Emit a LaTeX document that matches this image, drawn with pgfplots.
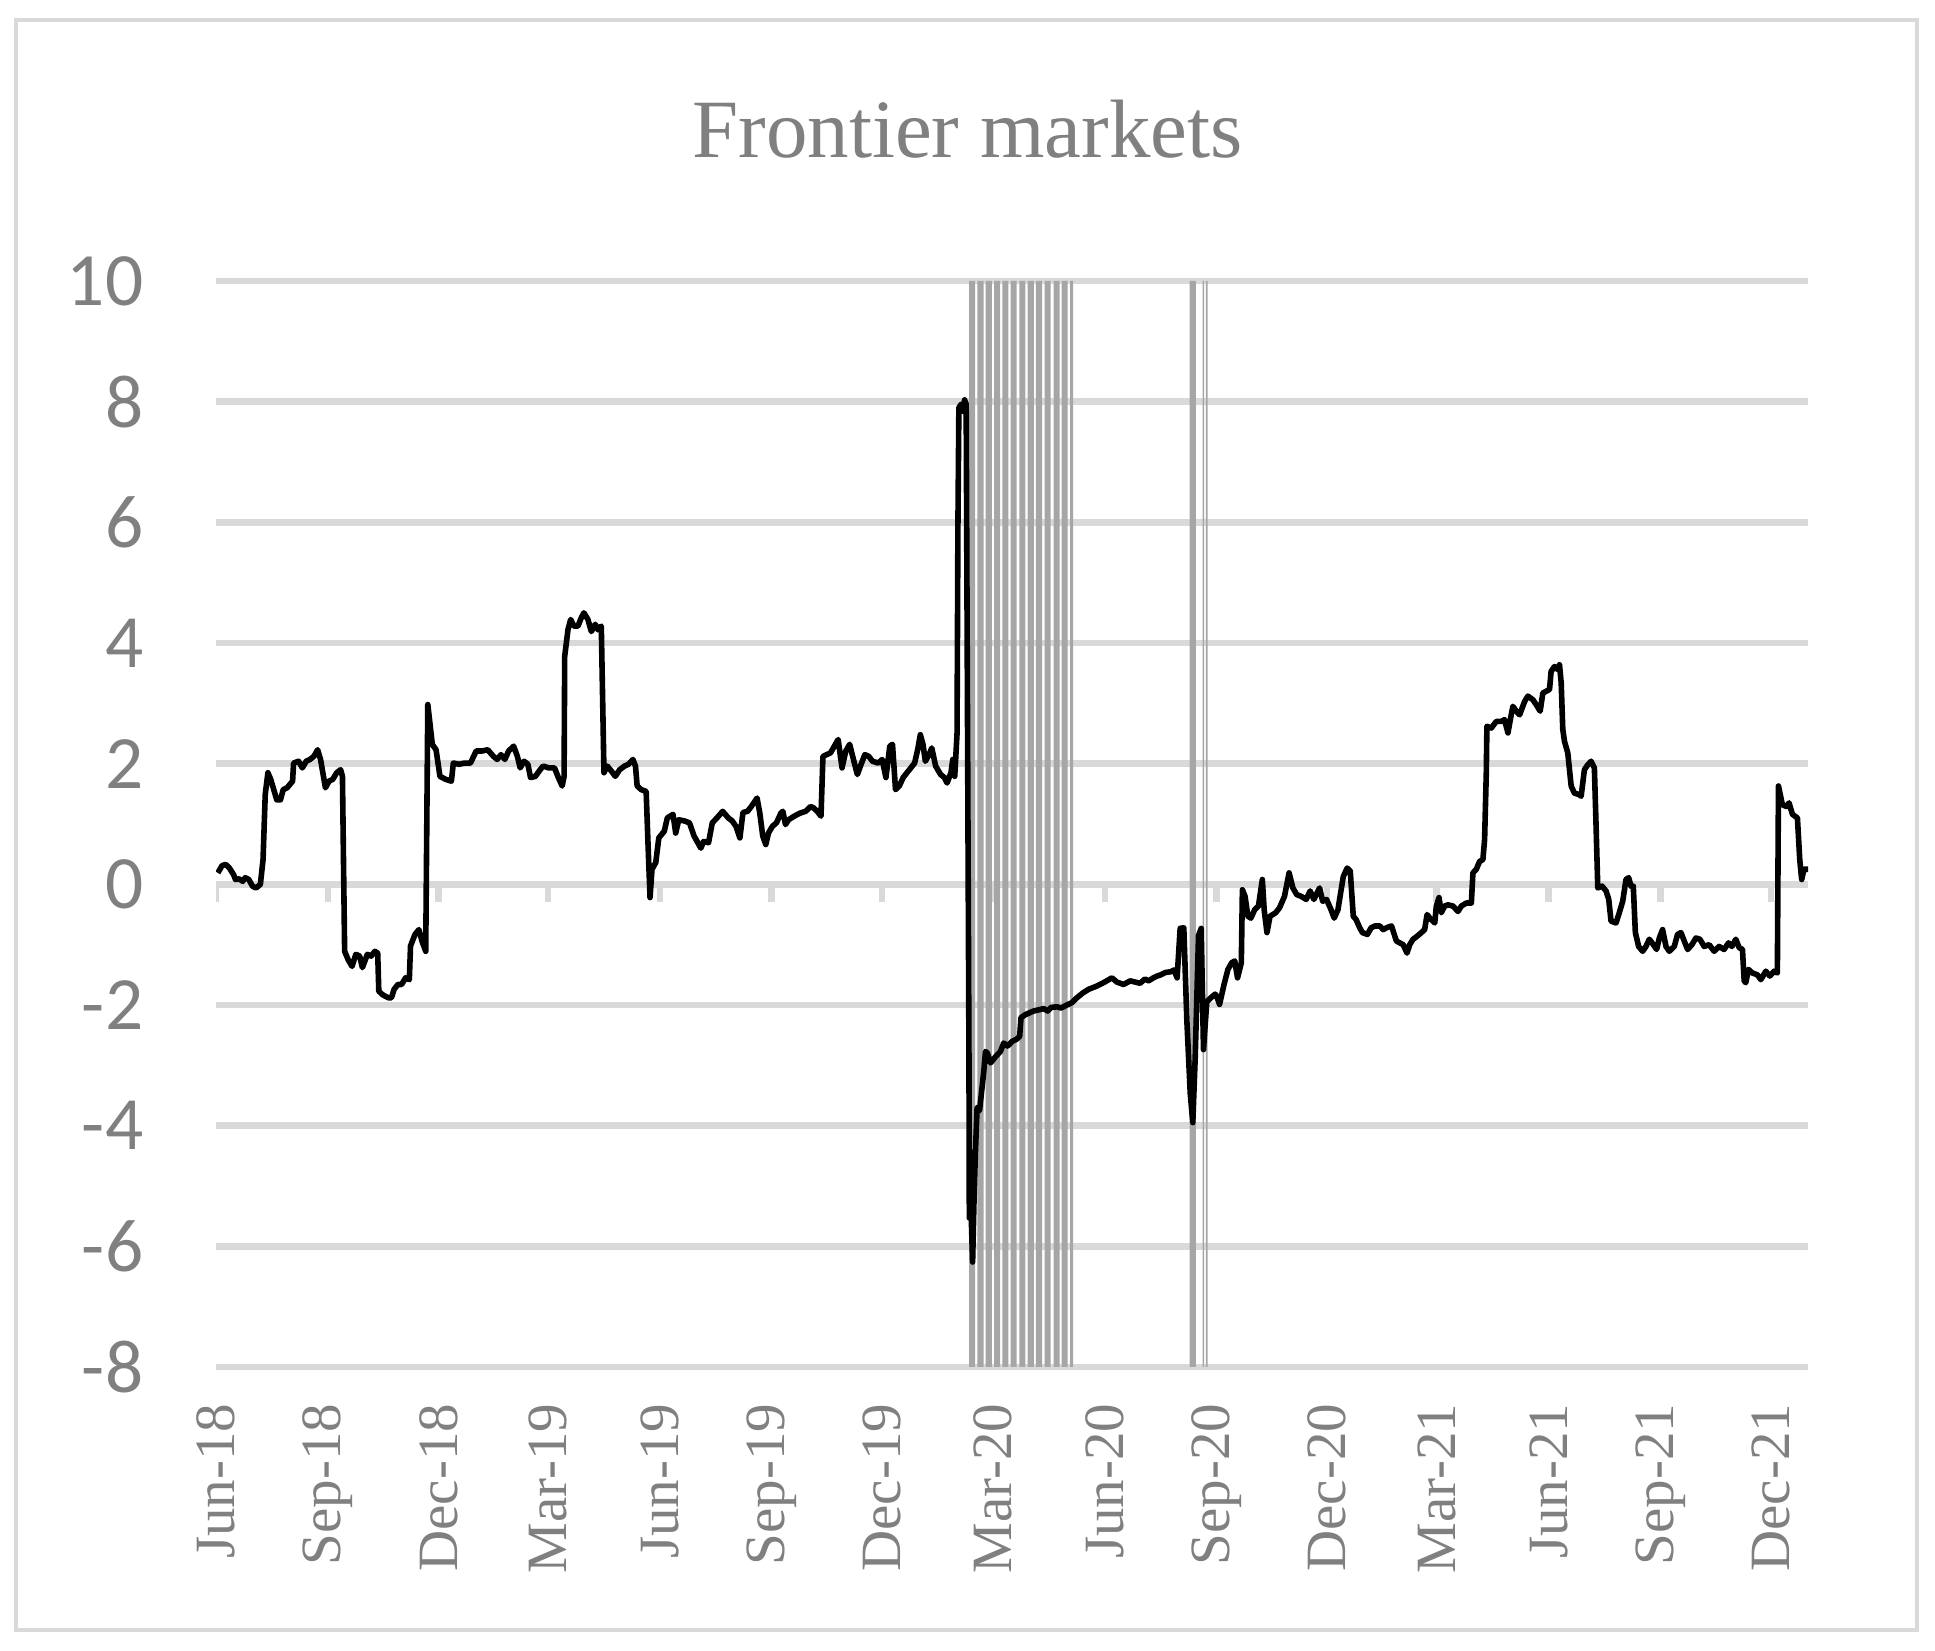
\documentclass[border=0pt]{standalone}
\usepackage{pgfplots}
\pgfplotsset{compat=1.18}
\usepackage{pgfplotstable}
\usepackage{fontspec}
\setmainfont{Liberation Serif}
\newfontfamily\carlito{Carlito}
\definecolor{gridgray}{RGB}{217,217,217}
\definecolor{bargray}{RGB}{166,166,166}
\definecolor{labgray}{RGB}{128,128,128}

\pgfplotstableread{
d v
1.5 0.19
5 0.31
8 0.33
11 0.27
14.5 0.16
16 0.08
19 0.09
22 0.05
24 0.11
27 0.08
30 -0.03
33 -0.06
36.5 0.0
38.7 0.41
40.5 1.49
42.7 1.85
45 1.74
47.5 1.57
50 1.40
53 1.40
55.3 1.57
58.5 1.60
63 1.71
63.8 2.01
67.9 2.04
71 1.93
74.2 2.04
77.3 2.07
80.5 2.12
83.6 2.23
86 2.07
90 1.60
93 1.71
96 1.74
99.3 1.85
102.5 1.90
104 1.79
105.8 -1.11
108.7 -1.25
111.9 -1.36
115 -1.16
118.2 -1.19
120.4 -1.38
124.5 -1.16
127.6 -1.19
130.7 -1.11
133 -1.14
133.9 -1.77
137 -1.83
141.7 -1.88
144.3 -1.88
146.5 -1.74
149.6 -1.66
152.7 -1.66
155.9 -1.55
159 -1.58
160 -1.02
163.7 -0.83
166.9 -0.75
169.4 -0.94
172.5 -1.11
174.2 2.98
177.9 2.32
181 2.23
184.2 1.79
188.9 1.74
193.6 1.71
195.2 2.01
199.9 1.99
204.6 2.01
209.3 2.01
214 2.21
218.7 2.21
223.5 2.23
228.2 2.12
231.3 2.07
234.4 2.15
237.6 2.07
240.7 2.21
244.8 2.29
247.9 2.12
250.2 1.93
253.3 2.04
256.5 1.99
258.7 1.77
262.7 1.79
265.9 1.88
269 1.96
273.7 1.93
278.4 1.93
281.6 1.77
284.7 1.63
286.3 1.79
286.8 3.78
289.5 4.22
291.7 4.39
294.4 4.28
297.7 4.28
300.5 4.42
302.6 4.50
305.9 4.39
308.7 4.19
311.9 4.31
314.1 4.22
316.9 4.28
319.1 1.85
321.8 1.96
325.1 1.88
328.4 1.79
332 1.90
336 1.96
339.3 1.99
342.9 2.07
345 1.96
346.4 1.63
349.7 1.57
353.8 1.54
355.4 0.63
357 -0.22
358.6 0.25
361.7 0.36
364.2 0.77
368.7 0.88
371.2 1.10
375.9 1.16
378.1 0.85
380.6 1.07
385.3 1.05
389.4 1.02
393.2 0.80
398.8 0.60
401 0.71
405.1 0.69
408.2 1.02
412 1.10
416.7 1.21
421.4 1.10
424.6 1.05
427.7 0.96
430.9 0.77
433.4 1.19
437.2 1.21
440.3 1.29
445 1.43
447.2 1.19
449.7 0.80
452.2 0.66
454.4 0.85
457.6 0.96
461 1.02
464.6 1.18
466.2 1.21
468.4 0.99
470.9 1.07
475.6 1.13
480.3 1.18
485 1.21
489.1 1.29
491.3 1.27
494.5 1.21
497.6 1.13
499.2 2.12
502.3 2.15
505.5 2.18
508.6 2.29
511.7 2.40
514.9 1.93
518 2.21
521.2 2.32
524.3 2.07
527.5 1.82
530.6 1.99
533.7 2.15
536.9 2.12
540 2.04
544.7 2.01
547.9 2.07
551 1.77
554.2 2.29
556.4 2.32
558.9 1.57
562 1.63
565.2 1.77
568.3 1.85
571.5 1.93
574.6 2.01
577.1 2.23
579.3 2.48
581.5 2.32
583.4 2.04
586.5 2.15
588.7 2.26
591.9 1.96
596 1.82
599.1 1.77
601.3 1.68
604.5 1.85
606 2.07
607.6 1.79
609.5 2.5
610.2 5.89
611 7.90
613 7.96
614.6 7.84
615.7 8.03
617 7.96
617.9 3.71
619.3 -2.86
619.6 -5.53
620.6 -4.43
621.3 -5.6
622.3 -6.26
623.4 -5.29
624.5 -4.5
626 -3.7
628 -3.75
631.5 -3.1
632.9 -2.77
634.5 -2.80
637 -2.96
641 -2.86
645.2 -2.77
647.9 -2.63
651 -2.68
655 -2.60
658.3 -2.57
661 -2.52
662.1 -2.21
665.7 -2.16
672.5 -2.10
680.8 -2.06
684 -2.10
687 -2.04
691.7 -2.03
695 -2.05
699.9 -2.00
704 -1.96
708.1 -1.88
713 -1.80
717.7 -1.74
724 -1.69
730 -1.63
736.9 -1.55
741 -1.62
746.4 -1.66
751.9 -1.60
756 -1.62
760 -1.64
764 -1.57
767 -1.60
771 -1.55
774 -1.52
777 -1.50
781 -1.46
785 -1.45
788 -1.42
790.5 -1.55
793 -0.73
796 -0.72
798.5 -2.25
801.3 -3.47
803.4 -3.95
805.4 -2.86
808.1 -0.85
810.3 -0.73
812.2 -2.74
814.9 -1.95
817.7 -1.89
821.8 -1.82
823 -1.85
825.4 -1.99
829.1 -1.66
832.3 -1.41
835.4 -1.30
837.9 -1.27
840.2 -1.55
843.3 -1.30
844.2 -0.09
846.4 -0.20
848.7 -0.53
851.2 -0.56
854.3 -0.42
857.4 -0.36
860.6 0.08
862.1 -0.42
864.4 -0.80
866.9 -0.53
871.6 -0.47
874.7 -0.39
878.8 -0.20
882.6 0.19
885.7 -0.06
888.9 -0.17
892.6 -0.20
896.7 -0.25
899.9 -0.11
903 -0.25
907.7 -0.06
910.2 -0.28
913.4 -0.25
917.1 -0.42
919.7 -0.56
922.8 -0.42
925 -0.14
927.2 0.13
930.4 0.27
932.9 0.22
935.4 -0.53
937.6 -0.58
940.7 -0.72
942.9 -0.80
947 -0.83
950.1 -0.72
953.3 -0.69
957.2 -0.69
960 -0.75
962.7 -0.72
966.8 -0.69
970.9 -0.94
973.6 -0.97
976.4 -1.00
979.6 -1.14
981.8 -1.00
984.6 -0.91
987.9 -0.86
991.4 -0.80
994.1 -0.75
996.1 -0.50
998.3 -0.56
1002.4 -0.64
1003.7 -0.36
1005.9 -0.22
1007.8 -0.47
1010.6 -0.36
1013.3 -0.34
1017.4 -0.36
1021.5 -0.45
1024.3 -0.36
1028.4 -0.31
1032.5 -0.31
1033.8 0.19
1036.6 0.25
1039.3 0.38
1042 0.41
1043.4 0.74
1044.8 1.85
1045.3 2.62
1048.9 2.59
1053 2.70
1057.1 2.70
1059.8 2.73
1062.6 2.51
1065.3 2.81
1066.7 2.95
1069.4 2.87
1072.2 2.81
1076.3 3.03
1079 3.12
1083.1 3.06
1085.8 2.98
1089.1 2.87
1091.3 3.17
1094 3.20
1096.8 3.23
1098.1 3.53
1100.9 3.61
1103.6 3.56
1105 3.64
1106.4 3.34
1107.7 2.57
1109.1 2.37
1111.8 2.18
1114.6 1.63
1117.3 1.51
1120.9 1.49
1122.8 1.46
1125.5 1.90
1128.2 1.98
1131 2.04
1133.7 1.93
1135.1 0.96
1136.5 -0.06
1140 -0.03
1143.3 -0.11
1145.5 -0.25
1147.4 -0.61
1151.5 -0.64
1154.2 -0.47
1157 -0.28
1159.7 0.08
1161.9 0.11
1163.8 -0.03
1165.7 -0.03
1167.4 -0.80
1170.1 -1.03
1173.4 -1.11
1176.1 -1.03
1178.9 -0.91
1182.2 -1.00
1184.9 -1.08
1187.1 -0.89
1189.8 -0.75
1192.6 -1.03
1195.3 -1.11
1199.4 -1.03
1202.1 -0.83
1204.9 -0.80
1207.6 -0.94
1210.4 -1.08
1213.9 -1.00
1217.2 -0.89
1220.5 -0.91
1224 -1.03
1228.1 -1.00
1232.2 -1.11
1236.3 -1.03
1240.4 -1.08
1244 -0.97
1246.8 -1.03
1250 -0.91
1252.8 -1.05
1255.5 -1.08
1256.9 -1.60
1258.2 -1.63
1260.4 -1.41
1263.7 -1.47
1267.8 -1.50
1270.6 -1.58
1274.7 -1.44
1278 -1.52
1281.5 -1.44
1284.2 -1.47
1285.1 1.63
1288.3 1.32
1291.6 1.29
1293.8 1.35
1296.6 1.16
1300.7 1.10
1302.6 0.41
1304.2 0.08
1306.1 0.25
1309.4 0.25
}\series

\begin{document}
\begin{tikzpicture}
\path (0,0) rectangle (483.75bp,412.75bp);
\draw[gridgray, line width=1bp] (4bp,5.25bp) rectangle (479.25bp,407.75bp);
\node[anchor=base, text=labgray, font=\fontsize{20.8}{20.8}\selectfont, inner sep=0pt] at (241.875bp,373.25bp) {Frontier markets};
\begin{axis}[
  at={(54bp,71bp)}, anchor=south west,
  width=398bp, height=271.5bp, scale only axis,
  xmin=0, xmax=1309.4, ymin=-8, ymax=10,
  axis line style={draw=none},
  major tick length=0pt,
  ytick={-8,-6,-4,-2,0,2,4,6,8,10},
  yticklabels={-8,-6,-4,-2,0,2,4,6,8,10},
  ymajorgrids,
  grid style={color=gridgray, line width=1.6bp},
  xtick={0,92,183,273,365,457,548,639,731,823,914,1004,1096,1188,1279},
  xticklabels={Jun-18,Sep-18,Dec-18,Mar-19,Jun-19,Sep-19,Dec-19,Mar-20,Jun-20,Sep-20,Dec-20,Mar-21,Jun-21,Sep-21,Dec-21},
  xticklabel style={rotate=90, anchor=east, inner sep=0pt, text=labgray, font=\fontsize{14.3}{14.3}\selectfont},
  xticklabel shift=9bp,
  yticklabel style={anchor=east, inner sep=0pt, text=labgray, font=\carlito\fontsize{18.9}{18.9}\selectfont},
  yticklabel shift=18bp,
]
% tick marks below zero line
\addplot[gridgray, line width=1.6bp, unbounded coords=jump, forget plot] coordinates {
(0,0) (0,-0.3) (46,nan) (92,0) (92,-0.3) (140,nan) (183,0) (183,-0.3) (230,nan)
(273,0) (273,-0.3) (320,nan) (365,0) (365,-0.3) (410,nan) (457,0) (457,-0.3) (500,nan)
(548,0) (548,-0.3) (590,nan) (639,0) (639,-0.3) (690,nan) (731,0) (731,-0.3) (780,nan)
(823,0) (823,-0.3) (870,nan) (914,0) (914,-0.3) (960,nan) (1004,0) (1004,-0.3) (1050,nan)
(1096,0) (1096,-0.3) (1140,nan) (1188,0) (1188,-0.3) (1230,nan) (1279,0) (1279,-0.3)
};
% crisis bars
\addplot[fill=bargray, draw=none, forget plot] coordinates {(619.4,-8) (619.4,10) (624.4,10) (624.4,-8) (619.4,-8)};
\addplot[fill=bargray, draw=none, forget plot] coordinates {(626.3,-8) (626.3,10) (631.3,10) (631.3,-8) (626.3,-8)};
\addplot[fill=bargray, draw=none, forget plot] coordinates {(633.1,-8) (633.1,10) (638.1,10) (638.1,-8) (633.1,-8)};
\addplot[fill=bargray, draw=none, forget plot] coordinates {(639.9,-8) (639.9,10) (644.9,10) (644.9,-8) (639.9,-8)};
\addplot[fill=bargray, draw=none, forget plot] coordinates {(646.8,-8) (646.8,10) (651.8,10) (651.8,-8) (646.8,-8)};
\addplot[fill=bargray, draw=none, forget plot] coordinates {(653.6,-8) (653.6,10) (658.6,10) (658.6,-8) (653.6,-8)};
\addplot[fill=bargray, draw=none, forget plot] coordinates {(660.7,-8) (660.7,10) (665.7,10) (665.7,-8) (660.7,-8)};
\addplot[fill=bargray, draw=none, forget plot] coordinates {(667.6,-8) (667.6,10) (672.6,10) (672.6,-8) (667.6,-8)};
\addplot[fill=bargray, draw=none, forget plot] coordinates {(674.4,-8) (674.4,10) (679.4,10) (679.4,-8) (674.4,-8)};
\addplot[fill=bargray, draw=none, forget plot] coordinates {(681.5,-8) (681.5,10) (686.5,10) (686.5,-8) (681.5,-8)};
\addplot[fill=bargray, draw=none, forget plot] coordinates {(688.9,-8) (688.9,10) (693.9,10) (693.9,-8) (688.9,-8)};
\addplot[fill=bargray, draw=none, forget plot] coordinates {(695.5,-8) (695.5,10) (700.5,10) (700.5,-8) (695.5,-8)};
\addplot[fill=bargray, draw=none, forget plot] coordinates {(702.5,-8) (702.5,10) (705,10) (705,-8) (702.5,-8)};
\addplot[fill=bargray, draw=none, forget plot] coordinates {(800.7,-8) (800.7,10) (805.9,10) (805.9,-8) (800.7,-8)};
\addplot[fill=bargray, draw=none, forget plot] coordinates {(811.4,-8) (811.4,10) (812.7,10) (812.7,-8) (811.4,-8)};
\addplot[fill=bargray, draw=none, forget plot] coordinates {(814.1,-8) (814.1,10) (815.5,10) (815.5,-8) (814.1,-8)};
% series
\addplot[black, line width=1.4bp, line join=round] table[x=d, y=v] {\series};
\end{axis}
\end{tikzpicture}
\end{document}
